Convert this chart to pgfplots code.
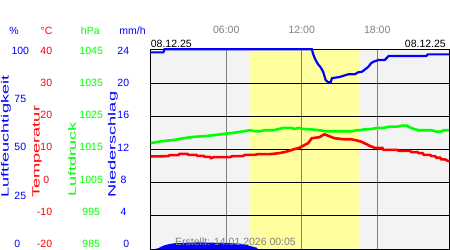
\documentclass[border=0pt]{standalone}
\usepackage{pgfplots}
\pgfplotsset{compat=1.18}
\usepackage{graphicx}
\usepackage{fontspec}
\setmainfont{Liberation Sans}
\definecolor{bgc}{HTML}{F3F3F3}
\definecolor{sun}{HTML}{FFFFA0}
\definecolor{hblue}{HTML}{0000FF}
\definecolor{tred}{HTML}{FF0000}
\definecolor{pgreen}{HTML}{00FF00}
\definecolor{lab}{HTML}{808080}
\begin{document}
\begin{tikzpicture}[font=\fontsize{10.5bp}{12bp}\selectfont]
\useasboundingbox (0,0) rectangle (450bp,250bp);
\pgfplotsset{
  base/.style={scale only axis, width=298.3bp, height=199bp, at={(150.7bp,1bp)}, anchor=south west, xmin=0, xmax=23.7},
  data/.style={base, hide axis, clip=false},
  lab/.style={scale only axis, width=298.3bp, height=193.3bp, at={(150.7bp,6bp)}, anchor=south west, xmin=0, xmax=23.7,
     axis line style={draw=none}, tick style={draw=none}, major tick length=0pt, xtick=\empty, yticklabel style={inner sep=0pt}},
}
% background, daylight band, grid
\begin{axis}[base, axis background/.style={fill=bgc}, axis on top,
  ymin=0, ymax=24, ytick={4,8,12,16,20}, yticklabels={,,,,},
  xtick={6,12,18}, xticklabels={06:00,12:00,18:00}, xticklabel pos=right,
  xticklabel style={text=lab, anchor=center, yshift=20bp, inner sep=0pt},
  major tick length=0pt, xmajorgrids, ymajorgrids,
  x grid style={lab, line width=1bp}, y grid style={black, line width=1bp},
  axis line style={black, line width=1bp}]
\addplot[fill=sun, draw=none] coordinates {(7.9,0) (7.9,24) (16.55,24) (16.55,0)} \closedcycle;
\end{axis}
% precipitation
\begin{axis}[data, ymin=0, ymax=24]
\addplot[fill=hblue, draw=none] coordinates {(0.35,0) (0.6,0.1) (0.8,0.25) (1.1,0.45) (1.5,0.6) (1.9,0.7) (2.7,0.75) (3.9,0.8) (5.1,0.75) (6.3,0.7) (7.1,0.65) (7.7,0.45) (8.05,0.3) (8.45,0.15) (8.5,0)} \closedcycle;
\end{axis}
% pressure
\begin{axis}[data, ymin=985, ymax=1045]
\addplot[pgreen, line width=2.6pt] coordinates {(0,1016.9) (0.4,1017.2) (0.9,1017.5) (1.9,1017.9) (2.6,1018.4) (3.4,1018.8) (4.5,1019.1) (5.2,1019.4) (5.8,1019.7) (6.3,1019.9) (6.9,1020.2) (7.4,1020.5) (7.9,1020.8) (8.3,1020.5) (8.7,1020.5) (9.0,1020.8) (9.7,1020.8) (10.1,1021.1) (10.5,1021.5) (11.2,1021.5) (11.4,1021.2) (11.8,1021.5) (12.1,1021.2) (12.6,1021.1) (13.2,1020.9) (14.0,1020.5) (16.0,1020.5) (16.3,1020.8) (16.6,1020.8) (17.0,1021.1) (17.4,1021.1) (18.0,1021.5) (18.5,1021.5) (19.0,1021.9) (19.6,1021.9) (20.0,1022.2) (20.4,1022.2) (20.5,1021.8) (20.9,1021.2) (21.3,1020.8) (22.3,1020.8) (22.7,1020.4) (23.0,1020.4) (23.3,1020.8) (23.7,1020.8)};
\end{axis}
% temperature
\begin{axis}[data, ymin=-20, ymax=40]
\addplot[tred, line width=2.6pt] coordinates {(0,7.9) (1.4,8.0) (1.5,8.3) (2.2,8.3) (2.3,8.7) (2.9,8.7) (3.0,8.4) (3.6,8.4) (3.7,8.1) (4.2,8.1) (4.3,7.8) (4.7,7.8) (4.8,7.4) (5.0,7.7) (6.3,7.7) (6.5,8.0) (7.3,8.0) (7.5,8.4) (8.3,8.4) (8.5,8.6) (9.5,8.6) (10.2,8.9) (10.6,9.2) (11.0,9.6) (11.4,10.1) (11.8,10.5) (12.2,11.3) (12.5,11.9) (12.8,13.4) (13.4,13.7) (13.8,14.6) (14.2,14.0) (14.6,13.4) (15.3,13.1) (15.9,13.1) (16.3,12.8) (16.7,12.4) (17.1,11.7) (17.4,11.1) (17.8,10.5) (18.4,10.5) (18.5,9.9) (19.6,9.9) (19.7,9.6) (20.6,9.6) (20.7,9.2) (21.2,9.2) (21.3,8.9) (21.6,8.9) (21.7,8.4) (22.2,8.4) (22.3,8.0) (22.6,8.0) (22.7,7.5) (23.0,7.5) (23.1,7.0) (23.4,7.0) (23.7,6.4)};
\end{axis}
% humidity
\begin{axis}[data, ymin=0, ymax=100]
\addplot[hblue, line width=2.2pt] coordinates {(0,98.8) (1.0,98.8) (1.1,100.4) (12.8,100.4) (12.93,97.5) (13.1,95) (13.3,92.8) (13.5,91.3) (13.7,89.1) (13.9,84.9) (14.1,83.8) (14.3,83.8) (14.4,85.8) (14.65,86.1) (14.9,86.3) (15.2,86.8) (15.7,87.8) (16.2,87.8) (16.5,88.8) (16.8,89.1) (17.0,90.1) (17.3,91.6) (17.5,93.3) (17.7,94.1) (18.1,95) (18.6,95) (18.8,96.3) (18.9,97) (21.9,97) (22.0,97.8) (23.7,97.8)};
\end{axis}
% tick label columns
\begin{axis}[lab, ymin=0, ymax=100, ytick={0,25,50,75,100}, yticklabels={0\hspace*{6.2bp},25,50,75,100},
  yticklabel style={text=hblue, anchor=center, xshift=-130.4bp}]
\end{axis}
\begin{axis}[lab, ymin=-20, ymax=40, ytick={-20,-10,0,10,20,30,40}, yticklabels={-20,-10,0\hspace*{3bp},10,20,30,40},
  yticklabel style={text=tred, anchor=east, xshift=-98.4bp}]
\end{axis}
\begin{axis}[lab, ymin=985, ymax=1045, ytick={985,995,1005,1015,1025,1035,1045}, yticklabels={985,995,1005,1015,1025,1035,1045},
  yticklabel style={text=pgreen, anchor=center, xshift=-59.5bp}]
\end{axis}
\begin{axis}[lab, ymin=0, ymax=24, ytick={0,4,8,12,16,20,24}, yticklabels={0,4\hspace*{2.6bp},8\hspace*{2.6bp},12,16,20,24},
  yticklabel style={text=hblue, anchor=east, xshift=-21.4bp}]
\end{axis}
% units
\node[text=hblue] at (14bp,219.5bp) {\%};
\node[text=tred] at (46.5bp,219.5bp) {°C};
\node[text=pgreen] at (90.3bp,219.5bp) {hPa};
\node[text=hblue] at (132.5bp,219.5bp) {mm/h};
% rotated labels
\node[rotate=90, anchor=west, inner sep=0pt, text=hblue] at (6bp,52bp) {\scalebox{1.73}[1]{Luftfeuchtigkeit}};
\node[rotate=90, anchor=west, inner sep=0pt, text=tred] at (37bp,52bp) {\scalebox{1.73}[1]{Temperatur}};
\node[rotate=90, anchor=west, inner sep=0pt, text=pgreen] at (72bp,53bp) {\scalebox{1.73}[1]{Luftdruck}};
\node[rotate=90, anchor=west, inner sep=0pt, text=hblue] at (113bp,52bp) {\scalebox{1.73}[1]{Niederschlag}};
% dates and footer
\node[anchor=west, inner sep=0pt] at (150.7bp,206.3bp) {08.12.25};
\node[anchor=east, inner sep=0pt] at (446bp,206.3bp) {08.12.25};
\node[anchor=west, inner sep=0pt, text=lab] at (175bp,8.5bp) {Erstellt: 14.01.2026 00:05};
\end{tikzpicture}
\end{document}
